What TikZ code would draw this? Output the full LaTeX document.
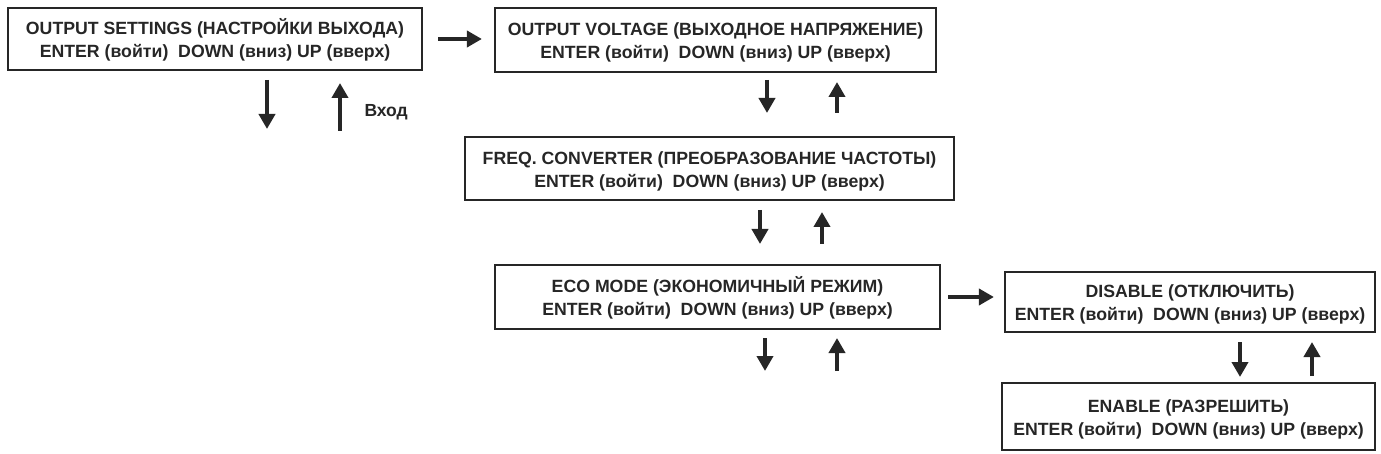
\documentclass[tikz,border=0pt]{standalone}
\usepackage{fontspec}
\setmainfont{Liberation Sans}
\usetikzlibrary{arrows.meta}
\newcommand{\topstrut}{\rule{0pt}{18pt}}
\begin{document}
\begin{tikzpicture}[x=1pt,y=-1pt,
  menubox/.style={draw=black!85,line width=2.2pt,inner sep=0pt,align=center,
    font=\bfseries\fontsize{17.7}{23}\selectfont,text=black!85},
  arr/.style={line width=4pt,draw=black!85,-{Triangle[width=16pt,length=15pt]}}]
\useasboundingbox (0,0) rectangle (1381,454);
\node[menubox,minimum width=414pt,minimum height=62pt] (b1) at (215,39)
  {\topstrut OUTPUT SETTINGS (НАСТРОЙКИ ВЫХОДА)\\ENTER (войти)\ \ DOWN (вниз) UP (вверх)};
\node[menubox,minimum width=441pt,minimum height=64pt] (b2) at (715.5,40)
  {\topstrut OUTPUT VOLTAGE (ВЫХОДНОЕ НАПРЯЖЕНИЕ)\\ENTER (войти)\ \ DOWN (вниз) UP (вверх)};
\node[menubox,minimum width=489pt,minimum height=63pt] (b3) at (709.5,168.5)
  {\topstrut FREQ. CONVERTER (ПРЕОБРАЗОВАНИЕ ЧАСТОТЫ)\\ENTER (войти)\ \ DOWN (вниз) UP (вверх)};
\node[menubox,minimum width=445pt,minimum height=64pt] (b4) at (717.5,297)
  {\topstrut ECO MODE (ЭКОНОМИЧНЫЙ РЕЖИМ)\\ENTER (войти)\ \ DOWN (вниз) UP (вверх)};
\node[menubox,minimum width=370pt,minimum height=60pt] (b5) at (1190,302)
  {\topstrut DISABLE (ОТКЛЮЧИТЬ)\\ENTER (войти)\ \ DOWN (вниз) UP (вверх)};
\node[menubox,minimum width=373pt,minimum height=67pt] (b6) at (1188.5,416.5)
  {\topstrut ENABLE (РАЗРЕШИТЬ)\\ENTER (войти)\ \ DOWN (вниз) UP (вверх)};
% free arrow ends
\coordinate (d1s) at (267,80); \coordinate (d1e) at (267,129);
\coordinate (u1s) at (340,131); \coordinate (u1e) at (340,83);
\node[font=\bfseries\fontsize{17.5}{20}\selectfont,text=black!85,anchor=west] (vhod) at (361,112) {Вход};
\coordinate (d2s) at (767,80); \coordinate (d2e) at (767,113);
\coordinate (u2s) at (837,113); \coordinate (u2e) at (837,82);
\coordinate (d3s) at (760,210); \coordinate (d3e) at (760,244);
\coordinate (u3s) at (822,244); \coordinate (u3e) at (822,212);
\coordinate (d4s) at (765,338); \coordinate (d4e) at (765,371);
\coordinate (u4s) at (837,371); \coordinate (u4e) at (837,338);
\coordinate (d5s) at (1240,342); \coordinate (d5e) at (1240,377);
\coordinate (u5s) at (1312,376); \coordinate (u5e) at (1312,342);
\draw[arr] ([xshift=15pt]b1.east) -- ([xshift=-12pt]b2.west |- b1.east);
\draw[arr] ([xshift=7pt]b4.east) -- ([xshift=-10pt]b5.west |- b4.east);
\foreach \i in {1,...,5}{
  \draw[arr] (d\i s) -- (d\i e);
  \draw[arr] (u\i s) -- (u\i e);
}
\end{tikzpicture}
\end{document}
